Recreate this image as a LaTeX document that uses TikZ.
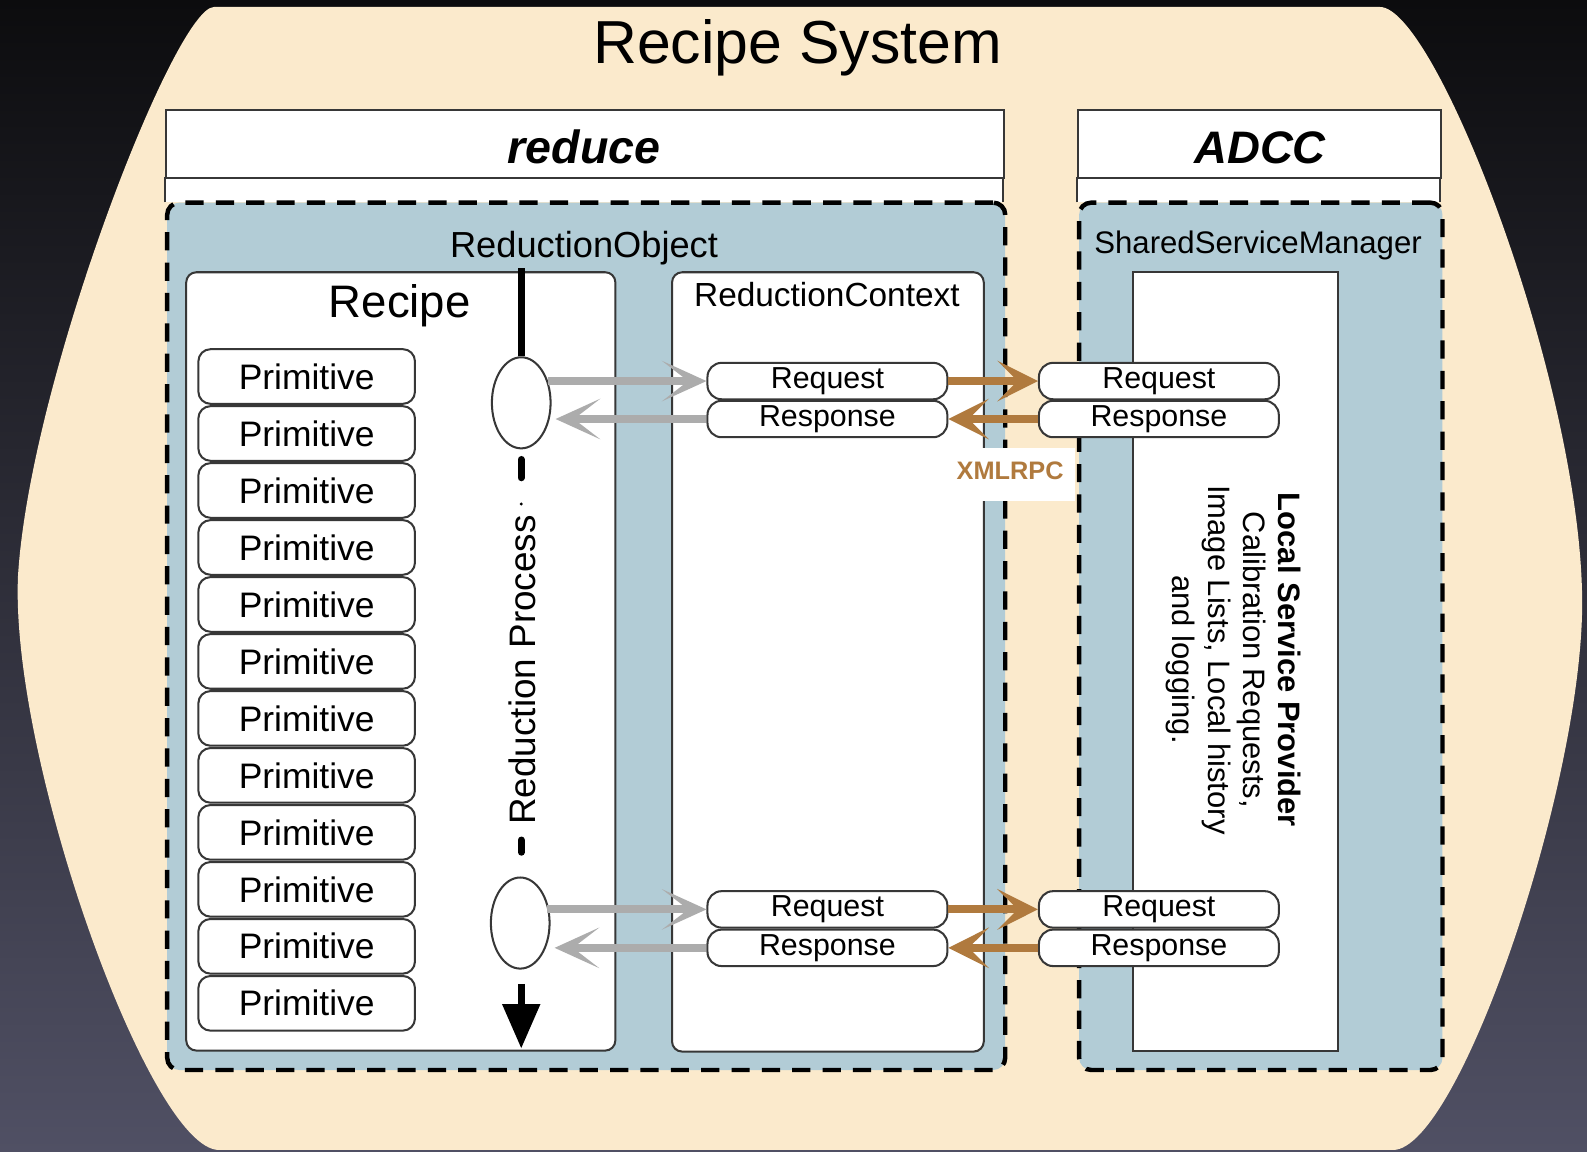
\documentclass[tikz,border=0pt]{standalone}
\usepackage{fontspec}
\setmainfont{Liberation Sans}
\usetikzlibrary{arrows.meta,shapes.geometric}
\definecolor{bgtop}{RGB}{12,12,14}
\definecolor{bgbot}{RGB}{80,80,100}
\definecolor{sand}{RGB}{251,234,204}
\definecolor{panefill}{RGB}{178,204,214}
\definecolor{edge}{RGB}{55,55,55}
\definecolor{wire}{RGB}{172,172,172}
\definecolor{rpc}{RGB}{176,122,62}
\newcommand\setfs[2]{\fontsize{#1}{#2}\selectfont}
\begin{document}
\begin{tikzpicture}[x=0.5pt,y=-0.5pt,
  edgeline/.style={draw=edge,line width=1pt},
  box/.style={edgeline,fill=white,inner sep=0pt},
  roundbox/.style={box,rounded corners=5pt},
  pane/.style={draw=black,fill=panefill,line width=2.2pt,dash pattern=on 9pt off 6pt,rounded corners=6pt,inner sep=0pt},
  prim/.style={roundbox,rounded corners=6pt,minimum width=107pt,minimum height=27pt,font=\setfs{17.5}{20}},
  pill/.style={roundbox,rounded corners=7pt,minimum width=118.5pt,minimum height=18pt,font=\setfs{15}{17}},
  grayarrow/.style={draw=wire,line width=4pt,-{Stealth[length=22pt,width=20pt,inset=13pt]}},
  rpcarrow/.style={draw=rpc,line width=4pt,-{Stealth[length=20pt,width=20pt,inset=10pt]}},
  axis/.style={line width=3.5pt,line cap=round}
]
% page and backdrop
\useasboundingbox (0,0) rectangle (1568,1138);
\shade[top color=bgtop,bottom color=bgbot] (0,0) rectangle (1568,1138);

% rounded sand-coloured system outline
\begin{scope}[scale=0.988]
\fill[sand] (214,7) -- (1380,7)
  .. controls (1435,7) and (1576,370) .. (1582,590)
  .. controls (1588,770) and (1460,1150) .. (1393,1150)
  -- (219,1150)
  .. controls (150,1150) and (10,760) .. (18,576)
  .. controls (30,380) and (175,7) .. (214,7) -- cycle;
\end{scope}

\node[font=\setfs{30}{32},anchor=base] (title) at (788,63) {Recipe System};

% reduce column
\fill[white] (163,175) rectangle (991,200);
\draw[edgeline] (163,200) -- (163,175) (991,175) -- (991,200);
\node[box,anchor=north west,minimum width=414pt,minimum height=33.5pt] (redhead) at (163,108) {};
\node[font=\setfs{23}{25}\bfseries\itshape,anchor=base] (redtitle) at (577,162) {reduce};
\node[pane,anchor=north west,minimum width=414pt,minimum height=428.5pt] (redpane) at (163,198) {};
\node[font=\setfs{17.9}{20},anchor=base] (rolabel) at (577,254) {ReductionObject};

% ADCC column
\fill[white] (1064,175) rectangle (1423,200);
\draw[edgeline] (1064,200) -- (1064,175) (1423,175) -- (1423,200);
\node[box,anchor=north west,minimum width=179.5pt,minimum height=33.5pt] (adcchead) at (1064,108) {};
\node[font=\setfs{22.5}{25}\bfseries\itshape,anchor=base] (adcctitle) at (1245,162) {ADCC};
\node[pane,anchor=north west,minimum width=179.5pt,minimum height=428.5pt] (adccpane) at (1064,198) {};
\node[font=\setfs{15.4}{17},anchor=base] (ssmlabel) at (1243,250) {SharedServiceManager};

% inner boxes
\node[roundbox,anchor=north west,minimum width=212pt,minimum height=384.5pt] (recipe) at (183,268) {};
\node[font=\setfs{22.5}{25},anchor=base] (recipetitle) at (395,314) {Recipe};
\node[roundbox,anchor=north west,minimum width=154pt,minimum height=385pt] (context) at (663,268) {};
\node[font=\setfs{16.5}{18},anchor=base] (contexttitle) at (817,303) {ReductionContext};
\node[box,anchor=north west,minimum width=101.5pt,minimum height=384.5pt] (lsp) at (1118,268) {};
\node[rotate=-90,align=center,font=\setfs{15.3}{17.5}] (lsptext) at (1219,652)
  {\textbf{Local Service Provider}\\Calibration Requests,\\Image Lists, Local history\\and logging.};

% primitives
\foreach \i in {0,...,11}
  \node[prim] (prim\i) at (303,{372+56.3*\i}) {Primitive};

% label patch for the XMLRPC link
\node[fill=white,minimum width=62pt,minimum height=26pt,inner sep=0pt] (xpatch) at (1000,469) {};
\node[font=\setfs{12.5}{14}\bfseries,text=rpc,anchor=base] (xmlrpc) at (998,474) {XMLRPC};

% request / response pairs
\node[pill] (rq1) at (817.5,376.5) {Request};
\node[pill] (rs1) at (817.5,414) {Response};
\node[pill] (rq2) at (817.5,898.5) {Request};
\node[pill] (rs2) at (817.5,936.5) {Response};
\node[pill] (arq1) at (1145,376.5) {Request};
\node[pill] (ars1) at (1145,414) {Response};
\node[pill] (arq2) at (1145,898.5) {Request};
\node[pill] (ars2) at (1145,936.5) {Response};

% reduction process steps
\node[ellipse,edgeline,fill=white,minimum width=29pt,minimum height=45pt,inner sep=0pt] (e1) at (515,398) {};
\node[ellipse,edgeline,fill=white,minimum width=29pt,minimum height=45pt,inner sep=0pt] (e2) at (514,912) {};

% process axis
\coordinate (axtop) at (515,265);
\coordinate (dashA1) at (515,454);
\coordinate (dashA2) at (515,472);
\coordinate (dashB1) at (515,830);
\coordinate (dashB2) at (515,842);
\coordinate (axstart) at (515,972);
\coordinate (axend) at (515,1036);
\draw[line width=3.5pt] (axtop) -- (e1.north);
\draw[axis] (dashA1) -- (dashA2);
\fill (515,498) circle (1.6);
\node[rotate=90,font=\setfs{18.2}{20}] (rp) at (516,662) {Reduction Process};
\draw[axis] (dashB1) -- (dashB2);
\draw[line width=3.5pt,-{Triangle[length=22pt,width=18pt]}] (axstart) -- (axend);

% step to context calls
\draw[grayarrow] ([xshift=-2pt]e1.east |- rq1.west) -- (rq1.west);
\draw[grayarrow] (rs1.west) -- ([xshift=2pt]e1.east |- rs1.west);
\draw[grayarrow] ([xshift=-2pt]e2.east |- rq2.west) -- (rq2.west);
\draw[grayarrow] (rs2.west) -- ([xshift=2pt]e2.east |- rs2.west);

% XMLRPC calls
\draw[rpcarrow] (rq1.east) -- (arq1.west);
\draw[rpcarrow] (ars1.west) -- (rs1.east);
\draw[rpcarrow] (rq2.east) -- (arq2.west);
\draw[rpcarrow] (ars2.west) -- (rs2.east);
\end{tikzpicture}
\end{document}
